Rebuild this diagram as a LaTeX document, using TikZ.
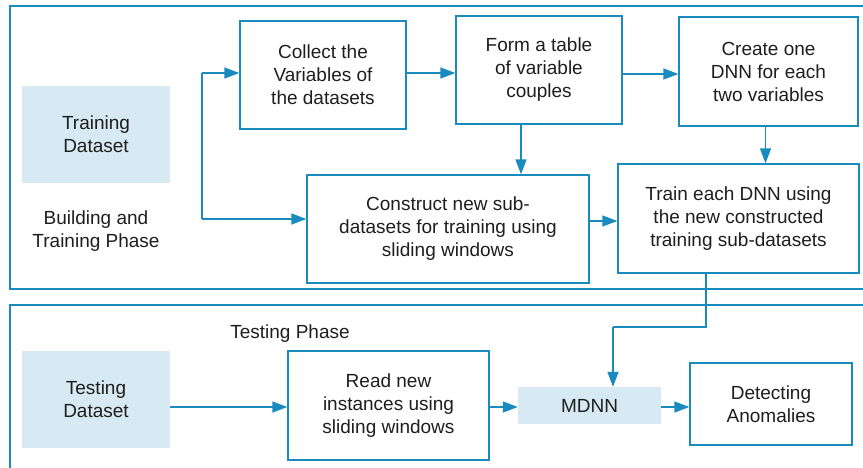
\documentclass[tikz,border=0pt]{standalone}
\usepackage{fontspec}
\setmainfont{Liberation Sans}
\usetikzlibrary{arrows.meta,calc}
\definecolor{lineblue}{HTML}{1A8BBF}
\definecolor{fillblue}{HTML}{D7E9F3}
\definecolor{txt}{HTML}{1E1E1E}
\tikzset{
  box/.style={draw=lineblue, line width=1.3pt, fill=white, align=center, inner sep=0pt, text=txt,
    font=\fontsize{19}{23}\selectfont},
  databox/.style={fill=fillblue, align=center, inner sep=0pt, text=txt,
    font=\fontsize{19}{23}\selectfont},
  lbl/.style={align=center, text=txt, font=\fontsize{19}{23}\selectfont},
  frame/.style={draw=lineblue, line width=1.2pt},
  arr/.style={draw=lineblue, line width=1.3pt, -{Triangle[length=15pt,width=11pt]}},
  ln/.style={draw=lineblue, line width=1.3pt}
}
\begin{document}
\begin{tikzpicture}[x=1pt,y=-1pt]
\clip (0,0) rectangle (863,467);
\fill[white] (0,0) rectangle (863,467);
% frames
\draw[frame] (10,6) rectangle (880,289);
\draw[frame] (10,305) rectangle (880,490);
% nodes top
\node[databox, minimum width=148pt, minimum height=97pt] (trainds) at (96,134.5) {Training\\Dataset};
\node[lbl] (bphase) at (96,231) {Building and\\Training Phase};
\node[box, minimum width=166pt, minimum height=108pt] (collect) at (323,75) {Collect the\\Variables of\\the datasets};
\node[box, minimum width=166pt, minimum height=108pt] (form) at (539,70) {Form a table\\of variable\\couples};
\node[box, minimum width=179pt, minimum height=109pt] (create) at (768.5,71.5) {Create one\\DNN for each\\two variables};
\node[box, minimum width=282pt, minimum height=108pt] (construct) at (448,229) {Construct new sub-\\datasets for training using\\sliding windows};
\node[box, minimum width=241pt, minimum height=109pt] (train) at (738.5,218.5) {Train each DNN using\\the new constructed\\training sub-datasets};
% nodes bottom
\node[lbl] (tphase) at (290,334) {Testing Phase};
\node[databox, minimum width=148pt, minimum height=97pt] (testds) at (96,399.5) {Testing\\Dataset};
\node[box, minimum width=201pt, minimum height=109pt] (read) at (388.5,405.5) {Read new\\instances using\\sliding windows};
\node[databox, minimum width=143pt, minimum height=37pt] (mdnn) at (589.5,405.5) {MDNN};
\node[box, minimum width=162pt, minimum height=82pt] (detect) at (771,404) {Detecting\\Anomalies};
% coordinates
\coordinate (j1) at (202,73);
\coordinate (j2) at (202,219);
\coordinate (r1) at (0,74);
\coordinate (r2) at (0,221);
\coordinate (r3) at (0,407);
\coordinate (k1) at (706,327);
\coordinate (k2) at (613,327);
% connectors top
\draw[ln] (j2) -- (j1);
\draw[arr] (j1) -- (j1 -| collect.west);
\draw[arr] (j2) -- (j2 -| construct.west);
\draw[arr] (collect.east |- j1) -- (form.west |- j1);
\draw[arr] (form.east |- r1) -- (create.west |- r1);
\draw[arr] ([xshift=-18pt]form.south) -- ([xshift=-18pt]form.south |- construct.north);
\draw[arr] ([xshift=-3pt]create.south) -- ([xshift=-3pt]create.south |- train.north);
\draw[arr] (construct.east |- r2) -- (train.west |- r2);
% connector train -> mdnn
\draw[ln] (k1 |- train.south) -- (k1) -- (k2);
\draw[arr] (k2) -- (k2 |- mdnn.north);
% connectors bottom
\draw[arr] (testds.east |- r3) -- (read.west |- r3);
\draw[arr] (read.east |- r3) -- (mdnn.west |- r3);
\draw[arr] (mdnn.east |- r3) -- (detect.west |- r3);
\end{tikzpicture}
\end{document}
